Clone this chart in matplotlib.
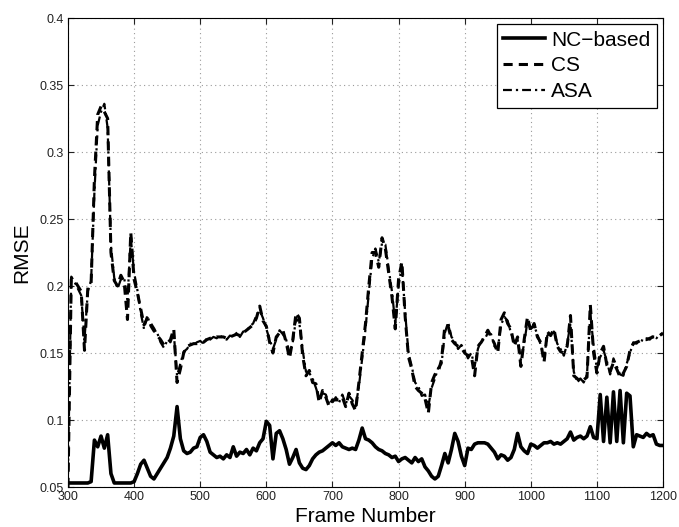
import numpy as np
import matplotlib
matplotlib.use("Agg")
import matplotlib.pyplot as plt

# Frame indices (every 5th frame from 300 to 1200)
frames = np.arange(300, 1201, 5)

nc_based = [
    .053, .053, .053, .053, .053, .053, .053, .054, .085, .080,
    .088, .079, .089, .060, .053, .053, .053, .053, .053, .053,
    .054, .060, .067, .070, .064, .058, .056, .060, .064, .068,
    .072, .079, .088, .110, .086, .077, .075, .076, .079, .080,
    .087, .089, .084, .076, .074, .072, .073, .071, .074, .072,
    .080, .073, .076, .075, .078, .074, .079, .077, .083, .086,
    .099, .096, .071, .090, .092, .086, .078, .067, .072, .078,
    .068, .064, .063, .066, .071, .074, .076, .077, .079, .081,
    .083, .081, .083, .080, .079, .078, .079, .078, .085, .094,
    .086, .085, .083, .080, .078, .077, .075, .074, .072, .073,
    .069, .071, .072, .070, .068, .072, .069, .071, .065, .062,
    .058, .056, .058, .066, .075, .068, .078, .090, .084, .073,
    .066, .079, .078, .082, .083, .083, .083, .082, .079, .076,
    .071, .074, .073, .070, .072, .078, .090, .080, .077, .075,
    .082, .081, .079, .081, .083, .083, .084, .082, .083, .082,
    .084, .086, .091, .085, .087, .088, .086, .088, .095, .087,
    .086, .119, .084, .117, .083, .121, .084, .122, .083, .120,
    .118, .080, .089, .088, .087, .090, .088, .089, .082, .081,
    .081,
]

cs = [
    .050, .205, .204, .200, .196, .152, .198, .202, .280, .328,
    .334, .330, .325, .225, .204, .200, .208, .203, .175, .240,
    .205, .195, .183, .171, .176, .172, .168, .163, .160, .156,
    .157, .160, .168, .128, .138, .150, .155, .156, .157, .157,
    .158, .158, .160, .161, .161, .162, .162, .162, .161, .162,
    .163, .164, .163, .165, .167, .169, .171, .176, .185, .174,
    .170, .158, .150, .162, .165, .167, .158, .146, .160, .180,
    .176, .148, .133, .137, .128, .127, .113, .122, .117, .110,
    .115, .115, .115, .117, .110, .120, .112, .107, .128, .150,
    .172, .200, .225, .225, .214, .236, .228, .210, .192, .168,
    .205, .218, .177, .147, .138, .125, .122, .120, .116, .105,
    .128, .134, .136, .145, .170, .170, .160, .157, .155, .154,
    .150, .148, .148, .133, .155, .158, .162, .167, .162, .157,
    .150, .175, .180, .172, .168, .155, .162, .140, .160, .177,
    .166, .172, .162, .158, .143, .166, .163, .168, .155, .151,
    .150, .155, .178, .133, .131, .128, .130, .132, .186, .150,
    .135, .150, .155, .141, .136, .143, .138, .132, .135, .140,
    .152, .157, .158, .159, .160, .160, .161, .162, .162, .163,
    .165,
]

asa = [
    .060, .207, .203, .198, .193, .160, .196, .204, .270, .320,
    .330, .336, .318, .230, .206, .198, .205, .206, .190, .236,
    .210, .197, .180, .168, .178, .170, .166, .165, .158, .154,
    .159, .158, .165, .133, .142, .151, .153, .157, .156, .158,
    .159, .157, .161, .160, .162, .161, .163, .161, .160, .163,
    .162, .165, .162, .166, .166, .170, .172, .178, .182, .176,
    .168, .160, .153, .160, .167, .164, .160, .150, .158, .176,
    .172, .152, .136, .135, .131, .124, .116, .120, .119, .112,
    .113, .117, .113, .119, .112, .118, .115, .110, .125, .146,
    .168, .195, .220, .228, .218, .232, .231, .213, .196, .172,
    .200, .215, .180, .150, .140, .128, .125, .118, .119, .110,
    .124, .131, .139, .142, .165, .173, .162, .159, .153, .156,
    .152, .146, .150, .140, .153, .160, .160, .165, .164, .155,
    .153, .171, .177, .174, .165, .158, .160, .145, .157, .174,
    .168, .170, .164, .156, .147, .163, .165, .166, .157, .153,
    .148, .157, .172, .136, .129, .131, .128, .134, .180, .155,
    .138, .147, .152, .144, .134, .146, .140, .134, .133, .142,
    .150, .158, .157, .160, .159, .161, .160, .163, .161, .164,
    .164,
]

x_ticks = [300, 400, 500, 600, 700, 800, 900, 1000, 1100, 1200]
y_ticks = [0.05, 0.1, 0.15, 0.2, 0.25, 0.3, 0.35, 0.4]
y_tick_labels = ["0.05", "0.1", "0.15", "0.2", "0.25", "0.3", "0.35", "0.4"]

plt.rcParams["font.family"] = ["Liberation Sans", "DejaVu Sans"]

fig = plt.figure(figsize=(6.79, 5.27), dpi=100)
ax = fig.add_axes([0.1001, 0.0759, 0.8764, 0.8899])

ax.plot(frames, nc_based, color="black", lw=2.6, ls="-", label="NC\u2212based")
ax.plot(frames, cs, color="black", lw=2.2, ls=(0, (3, 2)), label="CS")
ax.plot(frames, asa, color="black", lw=1.6, ls=(0, (4, 1.8, 1, 1.8)), label="ASA")

ax.set_xlim(300, 1200)
ax.set_ylim(0.05, 0.4)
ax.set_xticks(x_ticks)
ax.set_yticks(y_ticks)
ax.set_yticklabels(y_tick_labels)
ax.tick_params(direction="in", top=True, right=True, length=4, width=0.8,
               labelsize=9, pad=3, colors="#222222")
ax.grid(True, ls=(0, (1, 3)), color="#9a9a9a", lw=0.8)
for sp in ax.spines.values():
    sp.set_linewidth(0.8)
    sp.set_color("black")

ax.set_xlabel("Frame Number", fontsize=15, labelpad=3)
ax.set_ylabel("RMSE", fontsize=15, labelpad=6)

leg = ax.legend(loc="upper right", fontsize=15, frameon=True, fancybox=False,
                edgecolor="black", framealpha=1, handlelength=2.0,
                handletextpad=0.3, labelspacing=0.33, borderpad=0.3,
                borderaxespad=0.3)
leg.get_frame().set_linewidth(0.9)

fig.savefig("out.png", dpi=100)
